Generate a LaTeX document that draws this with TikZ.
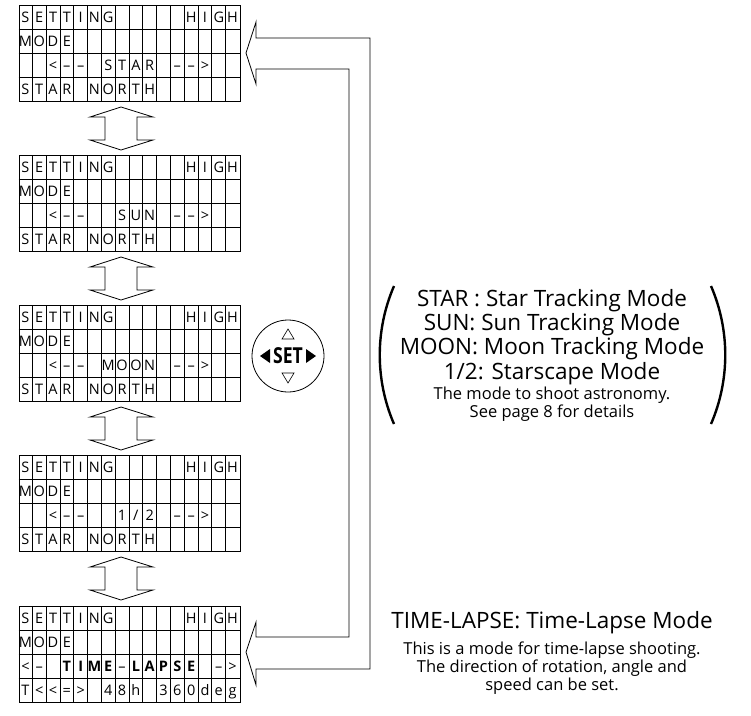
\documentclass[tikz,border=0pt]{standalone}
\usepackage{fontspec}
\setmainfont{Open Sans}
\usetikzlibrary{positioning}
\tikzset{every path/.style={line width=0.8pt}}
\tikzset{cell/.style={inner sep=0pt,anchor=base,font=\fontsize{14.5}{14.5}\selectfont}}
\tikzset{big/.style={font=\fontsize{22.5}{22.5}\selectfont}}
\tikzset{small/.style={font=\fontsize{16.5}{16.5}\selectfont}}

% one lcd panel: #1 name, #2 top, #3-#6 rows
\newcommand{\lcdpanel}[6]{
\node[draw,minimum width=221pt,minimum height=96pt,inner sep=0pt,anchor=north west] (#1) at (18.5,#2) {};
\foreach \k in {1,...,15} \draw (18.5+13.8125*\k,#2) -- (18.5+13.8125*\k,#2+96);
\foreach \k in {1,2,3} \draw (18.5,#2+24*\k) -- (239.5,#2+24*\k);
\foreach \c [count=\i from 0] in {#3} \node[cell] at (25.4+13.8125*\i,#2+17.2) {\c};
\foreach \c [count=\i from 0] in {#4} \node[cell] at (25.4+13.8125*\i,#2+41.2) {\c};
\foreach \c [count=\i from 0] in {#5} \node[cell] at (25.4+13.8125*\i,#2+65.2) {\c};
\foreach \c [count=\i from 0] in {#6} \node[cell] at (25.4+13.8125*\i,#2+89.2) {\c};
}
% double arrow under a panel bottom #1
\newcommand{\dblarrow}[1]{
\draw (121,#1+6) -- (153,#1+16) -- (137,#1+16) -- (137,#1+39) -- (153,#1+39) -- (121,#1+49)
 -- (90,#1+39) -- (105,#1+39) -- (105,#1+16) -- (90,#1+16) -- cycle;
}

\begin{document}
\begin{tikzpicture}[x=1pt,y=-1pt]
\useasboundingbox (0,0) rectangle (751,715);

\lcdpanel{star}{5}{S,E,T,T,I,N,G,,,,,,H,I,G,H}{M,O,D,E}{,,<,–,–,,S,T,A,R,,–,–,>}{S,T,A,R,,N,O,R,T,H}
\lcdpanel{sun}{155}{S,E,T,T,I,N,G,,,,,,H,I,G,H}{M,O,D,E}{,,<,–,–,,,S,U,N,,–,–,>}{S,T,A,R,,N,O,R,T,H}
\lcdpanel{moon}{305}{S,E,T,T,I,N,G,,,,,,H,I,G,H}{M,O,D,E}{,,<,–,–,,M,O,O,N,,–,–,>}{S,T,A,R,,N,O,R,T,H}
\lcdpanel{half}{455}{S,E,T,T,I,N,G,,,,,,H,I,G,H}{M,O,D,E}{,,<,–,–,,,1,/,2,,–,–,>}{S,T,A,R,,N,O,R,T,H}
\lcdpanel{lapse}{606}{S,E,T,T,I,N,G,,,,,,H,I,G,H}{M,O,D,E}{<,–,,\bfseries T,\bfseries I,\bfseries M,\bfseries E,–,\bfseries L,\bfseries A,\bfseries P,\bfseries S,\bfseries E,,–,>}{T,<,<,=,>,,4,8,h,,3,6,0,d,e,g}

\dblarrow{101}
\dblarrow{251}
\dblarrow{401}
\dblarrow{551}

% return arrow
\draw (246,53) -- (256,22) -- (256,38) -- (370,38) -- (370,669) -- (256,669) -- (256,685)
 -- (246,652) -- (256,622) -- (256,637) -- (349,637) -- (349,69) -- (256,69) -- (256,84) -- cycle;

% set button
\node[draw,circle,minimum size=72pt,inner sep=0pt] (set) at (288,356) {};
\node[font=\fontsize{22}{22}\selectfont\bfseries,xscale=0.8] (setlbl) at (set) {SET};
\fill ([xshift=-28]set.center) -- ++(10,-7) -- ++(0,14) -- cycle;
\fill ([xshift=28]set.center) -- ++(-10,-7) -- ++(0,14) -- cycle;
\draw[line width=0.6pt] ([yshift=27]set.center) -- ++(-6,10) -- ++(12,0) -- cycle;
\draw[line width=0.6pt] ([yshift=-27]set.center) -- ++(-6,-10) -- ++(12,0) -- cycle;

% mode list
\draw[line width=2.4pt] (394,286) .. controls (375,330) and (375,380) .. (394,424);
\draw[line width=2.4pt] (711,286) .. controls (730,330) and (730,380) .. (711,424);
\node[big] (l1) at (552,301) {STAR : Star Tracking Mode};
\node[big] (l2) at (552,325) {SUN: Sun Tracking Mode};
\node[big] (l3) at (552,349) {MOON: Moon Tracking Mode};
\node[big] (l4) at (552,374) {1/2: Starscape Mode};
\node[small] (l5) at (552,395) {The mode to shoot astronomy.};
\node[small] (l6) at (552,413) {See page 8 for details};

\node[big] (t1) at (552,623) {TIME-LAPSE: Time-Lapse Mode};
\node[small] (t2) at (552,650) {This is a mode for time-lapse shooting.};
\node[small] (t3) at (552,668) {The direction of rotation, angle and};
\node[small] (t4) at (552,686) {speed can be set.};
\end{tikzpicture}
\end{document}
